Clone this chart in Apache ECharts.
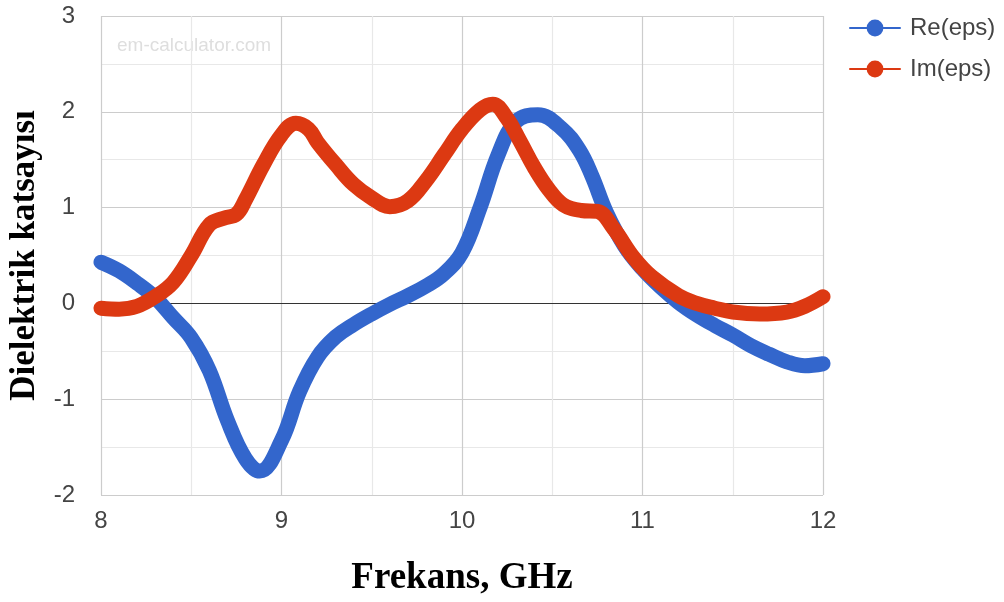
<!DOCTYPE html>
<html>
<head>
<meta charset="utf-8">
<style>
  html, body { margin: 0; padding: 0; background: #fff; }
  #chart { width: 1004px; height: 602px; }
</style>
<script src="https://cdn.jsdelivr.net/npm/echarts@6/dist/echarts.min.js"></script>
</head>
<body>
<div id="chart"></div>
<script>
// Real part of permittivity vs frequency (GHz)
const reFreq = [8.0, 8.1, 8.2, 8.3, 8.4, 8.5, 8.6, 8.7, 8.8, 8.88, 9.0, 9.1, 9.2, 9.3, 9.4, 9.5, 9.6, 9.7, 9.8, 9.9,
  10.0, 10.1, 10.2, 10.3, 10.42, 10.55, 10.65, 10.72, 10.8, 10.9, 11.0, 11.1, 11.2, 11.3, 11.4, 11.5, 11.6, 11.7, 11.8, 11.9, 12.0];
const reVals = [0.43, 0.34, 0.21, 0.06, -0.15, -0.36, -0.70, -1.22, -1.62, -1.75, -1.43, -0.92, -0.56, -0.35, -0.22, -0.11, -0.01, 0.08, 0.18, 0.31,
  0.53, 1.0, 1.55, 1.90, 1.97, 1.83, 1.60, 1.33, 0.95, 0.60, 0.36, 0.17, 0.01, -0.12, -0.23, -0.33, -0.44, -0.53, -0.61, -0.65, -0.63];

// Imaginary part of permittivity vs frequency (GHz)
const imFreq = [8.0, 8.1, 8.2, 8.3, 8.4, 8.5, 8.6, 8.68, 8.75, 8.8, 8.9, 9.0, 9.08, 9.15, 9.2, 9.3, 9.4, 9.5, 9.6, 9.7, 9.8, 9.9,
  10.0, 10.1, 10.17, 10.25, 10.32, 10.4, 10.48, 10.56, 10.66, 10.75, 10.84, 10.95, 11.05, 11.2, 11.3, 11.4, 11.5, 11.65, 11.8, 11.9, 12.0];
const imVals = [-0.05, -0.06, -0.03, 0.07, 0.22, 0.50, 0.82, 0.89, 0.93, 1.08, 1.45, 1.76, 1.88, 1.82, 1.68, 1.45, 1.24, 1.10, 1.01, 1.07, 1.28, 1.55,
  1.82, 2.02, 2.08, 1.93, 1.70, 1.42, 1.19, 1.03, 0.97, 0.96, 0.78, 0.48, 0.28, 0.08, 0.0, -0.05, -0.09, -0.11, -0.09, -0.03, 0.07];

const xTicks = [8, 9, 10, 11, 12];
const yTicks = [-2, -1, 0, 1, 2, 3];

const pairs = (xs, ys) => xs.map((x, i) => [x, ys[i]]);

const chart = echarts.init(document.getElementById('chart'), null, { renderer: 'canvas' });

const sans = '"Liberation Sans", Arial, sans-serif';
const serif = '"Liberation Serif", "Times New Roman", serif';
const labelFont = { color: '#444', fontSize: 24, fontFamily: sans };

chart.setOption({
  animation: false,
  backgroundColor: '#fff',
  grid: { left: 101, right: 181, top: 16, bottom: 107, containLabel: false, outerBoundsMode: 'none' },
  legend: {
    left: 844, top: 11, orient: 'vertical',
    itemWidth: 50, itemHeight: 21, itemGap: 17,
    textStyle: { color: '#444', fontSize: 24, fontFamily: sans, padding: [0, 0, 0, 5] },
    lineStyle: { width: 2 },
    data: ['Re(eps)', 'Im(eps)']
  },
  graphic: [{
    type: 'text', left: 117, top: 36,
    style: { text: 'em-calculator.com', fill: '#dedede', font: '19px ' + sans }
  }],
  xAxis: {
    type: 'value', min: xTicks[0], max: xTicks[xTicks.length - 1], interval: 1,
    name: 'Frekans, GHz', nameLocation: 'middle', nameGap: 65,
    nameTextStyle: { color: '#000', fontSize: 37, fontWeight: 'bold', fontFamily: serif },
    axisLine: { onZero: true, lineStyle: { color: '#333', width: 1.2 } },
    axisTick: { show: false },
    axisLabel: Object.assign({ margin: 14 }, labelFont),
    splitLine: { show: true, lineStyle: { color: '#cccccc', width: 1.2 } },
    minorTick: { show: false, splitNumber: 2 },
    minorSplitLine: { show: true, lineStyle: { color: '#e8e8e8', width: 1.2 } }
  },
  yAxis: {
    type: 'value', min: yTicks[0], max: yTicks[yTicks.length - 1], interval: 1,
    name: 'Dielektrik katsayısı', nameLocation: 'middle', nameGap: 54,
    nameTextStyle: { color: '#000', fontSize: 35, fontWeight: 'bold', fontFamily: serif },
    axisLine: { show: false },
    axisTick: { show: false },
    axisLabel: Object.assign({ margin: 26 }, labelFont),
    splitLine: { show: true, lineStyle: { color: '#cccccc', width: 1.2 } },
    minorTick: { show: false, splitNumber: 2 },
    minorSplitLine: { show: true, lineStyle: { color: '#e8e8e8', width: 1.2 } }
  },
  series: [
    {
      name: 'Re(eps)', type: 'line', data: pairs(reFreq, reVals), smooth: 0.4,
      symbol: 'circle', symbolSize: 14, showSymbol: false,
      itemStyle: { color: '#3366cc' },
      lineStyle: { color: '#3366cc', width: 15, cap: 'round', join: 'round' },
      z: 3
    },
    {
      name: 'Im(eps)', type: 'line', data: pairs(imFreq, imVals), smooth: 0.4,
      symbol: 'circle', symbolSize: 14, showSymbol: false,
      itemStyle: { color: '#dc3912' },
      lineStyle: { color: '#dc3912', width: 15, cap: 'round', join: 'round' },
      z: 4
    }
  ]
});
</script>
</body>
</html>
